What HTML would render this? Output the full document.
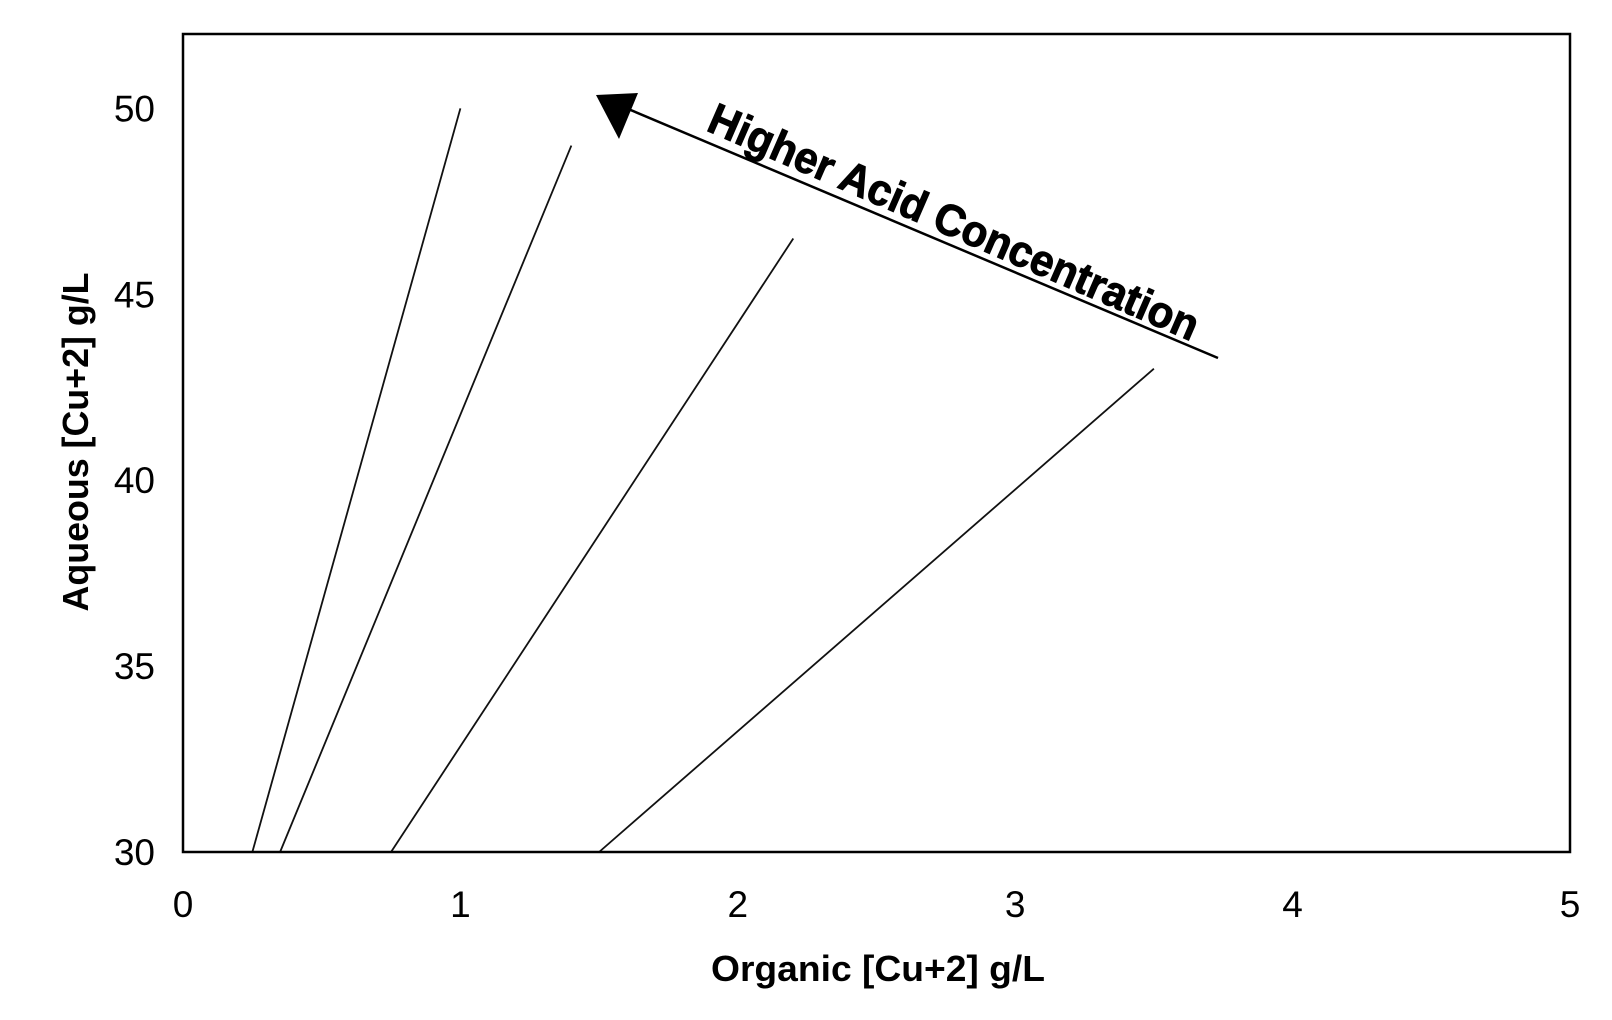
<!DOCTYPE html>
<html><head><meta charset="utf-8"><style>
html,body{margin:0;padding:0;background:#fff;}
svg{display:block;font-family:"Liberation Sans",Arial,sans-serif;}
</style></head><body>
<svg id="chart" width="1612" height="1020" viewBox="0 0 1612 1020">
<rect x="0" y="0" width="1612" height="1020" fill="#fff"/>
<g id="lines"></g>
<rect x="183" y="34" width="1387" height="818" fill="none" stroke="#000" stroke-width="2.5"/>
<g id="xticks"></g>
<g id="yticks"></g>
<text x="878" y="981" font-size="36" font-weight="bold" text-anchor="middle" textLength="334" lengthAdjust="spacingAndGlyphs">Organic [Cu+2] g/L</text>
<text transform="translate(88,442) rotate(-90)" font-size="36" font-weight="bold" text-anchor="middle" textLength="339" lengthAdjust="spacingAndGlyphs">Aqueous [Cu+2] g/L</text>
<line x1="1218" y1="358" x2="614" y2="103" stroke="#000" stroke-width="2.5"/>
<polygon points="596,95 638,93 619,139" fill="#000"/>
<text transform="translate(705,130) rotate(23.5)" font-size="44" font-weight="bold" textLength="530" lengthAdjust="spacingAndGlyphs" stroke="#000" stroke-width="1">Higher Acid Concentration</text>
</svg>
<script>
const xTicks=[0,1,2,3,4,5];
const yTicks=[30,35,40,45,50];
const x0s=[0.25,0.35,0.75,1.5];
const y0s=[30,30,30,30];
const x1s=[1.0,1.4,2.2,3.5];
const y1s=[50,49,46.5,43];
const NS="http://www.w3.org/2000/svg";
const X=v=>183+(v-0)/(5-0)*1387;
const Y=v=>852-(v-30)/(52-30)*818;
const lg=document.getElementById('lines');
for(let i=0;i<x0s.length;i++){
  const l=document.createElementNS(NS,'line');
  l.setAttribute('x1',X(x0s[i]));l.setAttribute('y1',Y(y0s[i]));
  l.setAttribute('x2',X(x1s[i]));l.setAttribute('y2',Y(y1s[i]));
  l.setAttribute('stroke','#111');l.setAttribute('stroke-width','1.8');
  
  
  lg.appendChild(l);
}
const xg=document.getElementById('xticks');
xTicks.forEach(v=>{
  const t=document.createElementNS(NS,'text');
  t.setAttribute('x',X(v));t.setAttribute('y',917);
  t.setAttribute('font-size','37');t.setAttribute('text-anchor','middle');
  t.textContent=v;
  
  
  xg.appendChild(t);
});
const yg=document.getElementById('yticks');
yTicks.forEach(v=>{
  const t=document.createElementNS(NS,'text');
  t.setAttribute('x',155);t.setAttribute('y',Y(v)+13);
  t.setAttribute('font-size','37');t.setAttribute('text-anchor','end');
  t.textContent=v;
  
  
  yg.appendChild(t);
});
</script>
</body></html>
